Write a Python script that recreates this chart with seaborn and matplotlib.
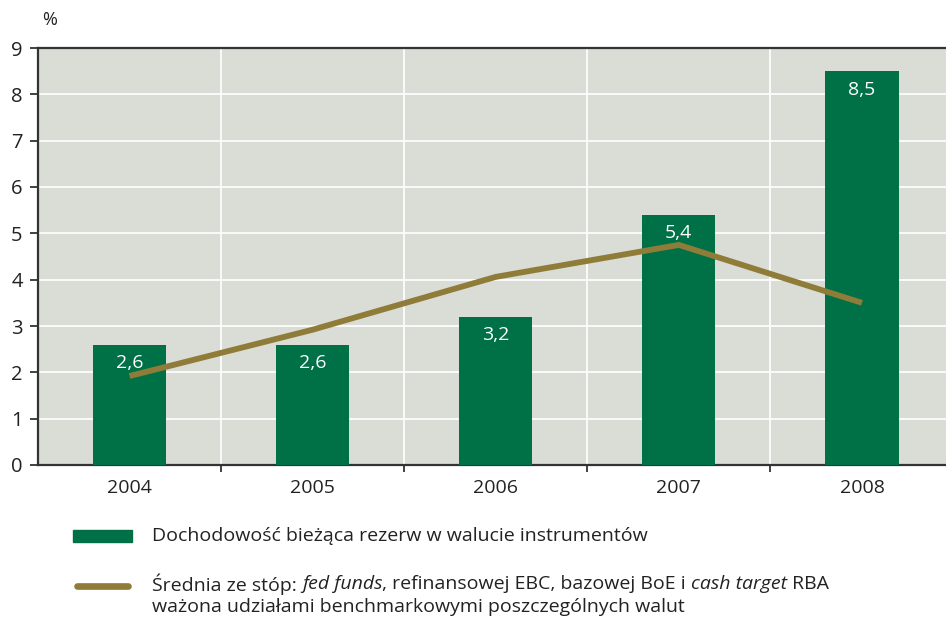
import matplotlib
matplotlib.use("Agg")
import matplotlib.pyplot as plt
import seaborn as sns
import numpy as np
import pandas as pd

years = ["2004", "2005", "2006", "2007", "2008"]
reserve_yield = [2.6, 2.6, 3.2, 5.4, 8.5]
weighted_rate = [1.92, 2.92, 4.06, 4.75, 3.50]
yield_labels = ["2,6", "2,6", "3,2", "5,4", "8,5"]
y_ticks = [0, 1, 2, 3, 4, 5, 6, 7, 8, 9]

GREEN = "#007046"
GOLD = "#8E7C38"
BG = "#D9DDD6"
DARK = "#333333"
TXT = "#222222"
FONT = ["Open Sans", "DejaVu Sans"]
FS = 14

sns.set_theme(style="white")
plt.rcParams["font.family"] = FONT

df = pd.DataFrame({"year": years, "yield": reserve_yield, "rate": weighted_rate})

fig = plt.figure(figsize=(9.46, 6.2), dpi=100)
ax = fig.add_axes([38 / 946, 155 / 620, 915.5 / 946, 417 / 620])
ax.set_facecolor(BG)

sns.barplot(data=df, x="year", y="yield", color=GREEN, width=0.4,
            saturation=1, linewidth=0, ax=ax, zorder=3)
sns.lineplot(x=np.arange(len(years)), y=df["rate"], color=GOLD, lw=4.2,
             ax=ax, zorder=4, solid_capstyle="butt")

for i, (v, lab) in enumerate(zip(reserve_yield, yield_labels)):
    ax.text(i, v - 0.40, lab, ha="center", va="center", color="white",
            fontsize=FS, zorder=5)

ax.set_xlim(-0.5, 4.5)
ax.set_ylim(0, 9)
ax.set_yticks(y_ticks)
ax.set_yticklabels([str(t) for t in y_ticks], fontsize=FS + 0.5, color=TXT)
ax.set_xticks(range(len(years)))
ax.set_xticklabels(years, fontsize=FS, color=TXT)
ax.set_xticks(np.arange(0.5, len(years) - 0.5, 1), minor=True)
ax.set_xlabel("")
ax.set_ylabel("")

ax.grid(False)
ax.yaxis.grid(True, color="white", lw=1.2, zorder=1)
ax.xaxis.grid(True, which="minor", color="white", lw=1.2, zorder=1)
ax.set_axisbelow(True)

ax.tick_params(axis="y", which="major", length=6, width=1.3, color=DARK,
               left=True, pad=5)
ax.tick_params(axis="x", which="major", length=0, pad=10)
ax.tick_params(axis="x", which="minor", length=5, width=1.3, color=DARK,
               bottom=True)

for side in ["left", "bottom", "top"]:
    ax.spines[side].set_visible(True)
    ax.spines[side].set_color(DARK)
    ax.spines[side].set_linewidth(1.6)
ax.spines["right"].set_visible(False)

fig.text(42 / 946, 1 - 20 / 620, "%", fontsize=FS - 1, ha="left", va="center",
         color=TXT)

# legend drawn in figure coordinates
fig.patches.append(plt.Rectangle((73 / 946, 1 - 542 / 620), 59 / 946, 12 / 620,
                                 transform=fig.transFigure, color=GREEN,
                                 figure=fig))
fig.text(152 / 946, 1 - 536 / 620,
         "Dochodowość bieżąca rezerw w walucie instrumentów",
         fontsize=FS, ha="left", va="center", color=TXT)

fig.add_artist(plt.Line2D([77 / 946, 128 / 946], [1 - 586 / 620] * 2,
                          transform=fig.transFigure, color=GOLD, lw=4.8,
                          solid_capstyle="round"))

pieces = [("Średnia ze stóp: ", "normal"), ("fed funds", "italic"),
          (", refinansowej EBC, bazowej BoE i ", "normal"),
          ("cash target", "italic"), (" RBA", "normal")]
fig.canvas.draw()
renderer = fig.canvas.get_renderer()
x = 152
for txt, style in pieces:
    t = fig.text(x / 946, 1 - 584 / 620, txt, fontsize=FS, style=style,
                 ha="left", va="center", color=TXT)
    bb = t.get_window_extent(renderer=renderer)
    x += bb.width
fig.text(152 / 946, 1 - 607 / 620,
         "ważona udziałami benchmarkowymi poszczególnych walut",
         fontsize=FS, ha="left", va="center", color=TXT)

fig.savefig("out.png", dpi=100, facecolor="white")
